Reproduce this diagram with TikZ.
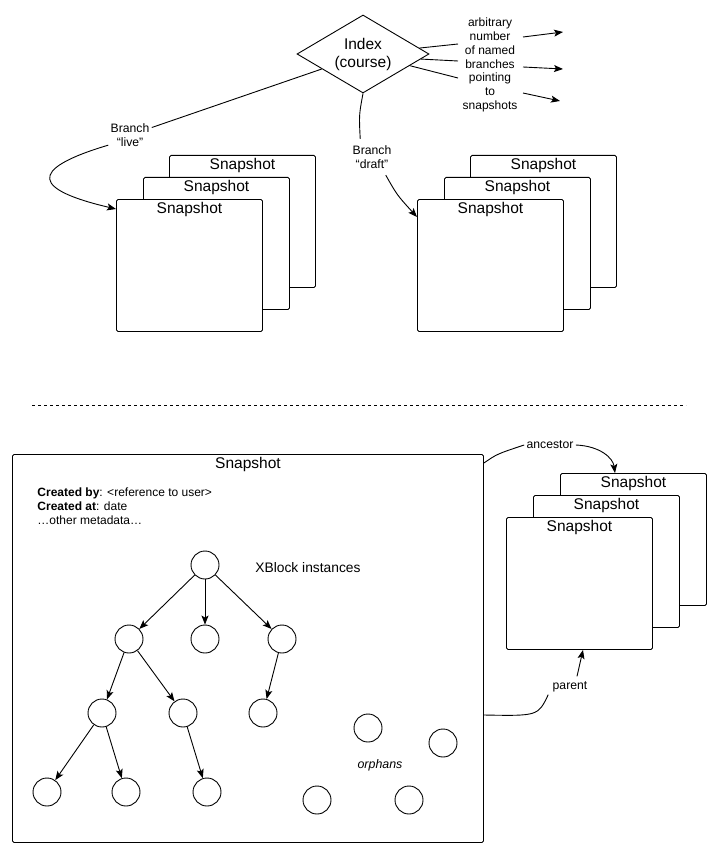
\documentclass[tikz,border=0pt]{standalone}
\usepackage{fontspec}
\setmainfont{Liberation Sans}
\usetikzlibrary{shapes.geometric,arrows.meta,calc}

\newcommand\snapfont{\fontsize{15.5}{18}\selectfont}
\newcommand\lblfont{\fontsize{12.2}{14.5}\selectfont}
\newcommand\notefont{\fontsize{12}{13.8}\selectfont}
\newcommand\metafont{\fontsize{12}{14}\selectfont}

\begin{document}
\begin{tikzpicture}[x=1pt,y=-1pt,line width=0.9pt,
  arr/.style={-{Stealth[length=9pt,width=7pt,inset=2pt]}},
  snapbox/.style={draw, rounded corners=1.5pt, fill=white,
    minimum width=146pt, minimum height=132pt, inner sep=0pt, anchor=north west,
    label={[anchor=north, font=\snapfont, inner sep=2pt, yshift=-1pt]north:Snapshot}},
  xb/.style={draw, circle, minimum size=28pt, inner sep=0pt},
  tag/.style={font=\lblfont, align=center, inner sep=2pt, fill=white}
]
\useasboundingbox (0,0) rectangle (719,853);

% ---------- index and its branches ----------
\node[draw, diamond, aspect=1.69, minimum width=132pt, minimum height=78pt,
      inner sep=0pt, align=center, font=\snapfont] (idx) at (363,54) {Index\\(course)};

\node[font=\notefont, align=center, inner sep=1pt] (arb) at (490,65)
  {arbitrary\\number\\of named\\branches\\pointing\\to\\snapshots};

\coordinate (b1) at (458,44);
\coordinate (b2) at (458,61);
\coordinate (b3) at (458,78);
\draw (idx.6) -- (b1);
\draw (idx.-5) -- (b2);
\draw (idx.-14) -- (b3);

\coordinate (a1s) at (523,37);  \coordinate (a1e) at (563,32);
\coordinate (a2s) at (523,67);  \coordinate (a2e) at (563,69);
\coordinate (a3s) at (523,93);  \coordinate (a3e) at (560,101);
\draw[arr] (a1s) -- (a1e);
\draw[arr] (a2s) -- (a2e);
\draw[arr] (a3s) -- (a3e);

% ---------- two stacks of snapshots ----------
\node[snapbox] (lb) at (169,155) {};
\node[snapbox] (lm) at (143,177) {};
\node[snapbox] (lf) at (116,199) {};

\node[snapbox] (rb) at (470,155) {};
\node[snapbox] (rm) at (444,177) {};
\node[snapbox] (rf) at (417,199) {};

% branch "live"
\node[tag] (live) at (130,135) {Branch\\“live”};
\draw (idx.200) -- (live);
\draw[arr] (live.205) .. controls (25,170) and (35,190) .. ($(lf.north west)+(0,10)$);

% branch "draft"
\node[tag] (draft) at (372,157) {Branch\\“draft”};
\draw (idx.south) .. controls (359,115) .. ($(draft.north west)+(10,-4)$);
\draw[arr] ($(draft.south east)+(-8,4)$) .. controls (397,195) .. ($(rf.north west)+(0,18)$);

% ---------- separator ----------
\coordinate (d1) at (32,405);
\coordinate (d2) at (686,405);
\draw[dash pattern=on 3pt off 3pt] (d1) -- (d2);

% ---------- one snapshot in detail ----------
\node[draw, rounded corners=1.5pt, minimum width=471pt, minimum height=388pt,
      inner sep=0pt, anchor=north west,
      label={[anchor=north, font=\snapfont, inner sep=2pt, yshift=-1pt]north:Snapshot}] (big) at (12,454) {};

\node[font=\metafont, align=left, anchor=north west, inner sep=0pt] (meta) at (37,487)
  {\textbf{Created by}: <reference to user>\\
   \textbf{Created at}: date\\
   …other metadata…};

\node[font=\fontsize{13.8}{16}\selectfont, anchor=west, inner sep=0pt] (xbl) at (255,568) {XBlock instances};

% XBlock tree
\node[xb] (r)   at (205,565) {};
\node[xb] (c1)  at (129,639) {};
\node[xb] (c2)  at (205,639) {};
\node[xb] (c3)  at (282,639) {};
\node[xb] (g1)  at (102,713) {};
\node[xb] (g2)  at (183,713) {};
\node[xb] (g3)  at (263,713) {};
\node[xb] (h1)  at (47,792) {};
\node[xb] (h2)  at (126,792) {};
\node[xb] (h3)  at (207,792) {};

\draw[arr] (r) -- (c1);
\draw[arr] (r) -- (c2);
\draw[arr] (r) -- (c3);
\draw[arr] (c1) -- (g1);
\draw[arr] (c1) -- (g2);
\draw[arr] (c3) -- (g3);
\draw[arr] (g1) -- (h1);
\draw[arr] (g1) -- (h2);
\draw[arr] (g2) -- (h3);

% orphans
\node[xb] (o1) at (368,728) {};
\node[xb] (o2) at (443,743) {};
\node[xb] (o3) at (317,800) {};
\node[xb] (o4) at (409,800) {};
\node[font=\fontsize{12.4}{14}\selectfont\itshape, inner sep=0pt] (orph) at (380,765) {orphans};

% ---------- earlier snapshots ----------
\node[snapbox] (bb) at (560,473) {};
\node[snapbox] (bm) at (533,495) {};
\node[snapbox] (bf) at (506,517) {};

\node[font=\lblfont, inner sep=2pt] (anc) at (550,445) {ancestor};
\draw ($(big.north east)+(0,9)$) .. controls (497,454) .. (anc.west);
\draw[arr] (anc.east) .. controls (600,446) and (613,458) .. ($(bb.north west)+(55,0)$);

\node[font=\lblfont, inner sep=2pt] (par) at (570,687) {parent};
\draw[arr] ($(par.north)+(7,-3)$) -- ($(bf.south west)+(77,0)$);
\draw ($(par.south west)+(-2,0)$) .. controls (538,716) .. ($(big.north east)+(0,261)$);

\end{tikzpicture}
\end{document}
